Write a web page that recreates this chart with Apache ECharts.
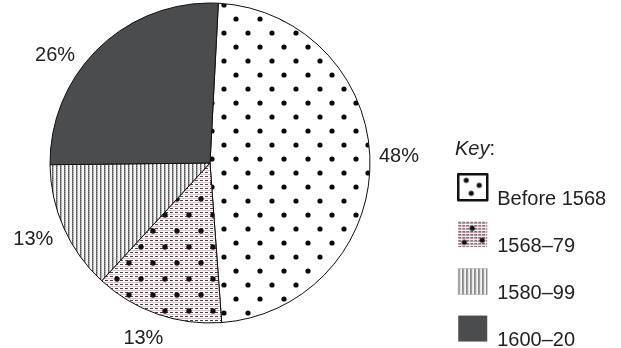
<!DOCTYPE html>
<html>
<head>
<meta charset="utf-8">
<script src="https://cdn.jsdelivr.net/npm/echarts@6/dist/echarts.min.js"></script>
<style>
html,body{margin:0;padding:0;background:#fff;}
#chart{width:621px;height:348px;}
</style>
</head>
<body>
<div id="chart"></div>
<script>
// ---- data ----
const categories = ['Before 1568', '1568–79', '1580–99', '1600–20'];
const shares = [48, 13, 13, 26];
const shareLabels = ['48%', '13%', '13%', '26%'];
const keyTitle = 'Key';

// ---- texture tiles ----
function tile(w, h, draw) {
  const c = document.createElement('canvas');
  c.width = w; c.height = h;
  const g = c.getContext('2d');
  draw(g);
  return c;
}
function dot(g, x, y, r, col) {
  g.fillStyle = col; g.beginPath(); g.arc(x, y, r, 0, Math.PI * 2); g.fill();
}
const dotsTile = tile(24, 28, g => {
  g.fillStyle = '#fff'; g.fillRect(0, 0, 24, 28);
  dot(g, 8, 5, 2.6, '#0a0a0a');
  dot(g, 20, 19, 2.6, '#0a0a0a');
});
const pinkTile = tile(120, 32, g => {
  g.fillStyle = '#fff'; g.fillRect(0, 0, 120, 32);
  for (let y = 0; y < 32; y += 4) {
    g.fillStyle = '#eeb6cd'; g.fillRect(0, y + 2, 120, 1);
    g.fillStyle = '#444';
    for (let x = 0; x < 120; x += 5) g.fillRect(x, y, 3, 1);
  }
  for (let x = 0; x < 120; x += 24) {
    dot(g, x + 9, 7, 2.7, '#111');
    dot(g, x + 21, 23, 2.7, '#111');
  }
});
const stripeTile = tile(4, 2, g => {
  g.fillStyle = '#fff'; g.fillRect(0, 0, 4, 2);
  g.fillStyle = '#505050'; g.fillRect(0, 0, 1, 1);
  g.fillStyle = '#777'; g.fillRect(0, 1, 1, 1);
  g.fillStyle = '#a8a8a8'; g.fillRect(1, 0, 1, 1);
  g.fillStyle = '#c0c0c0'; g.fillRect(1, 1, 1, 1);
  g.fillStyle = '#ececec'; g.fillRect(2, 1, 2, 1);
});
const keyDotsTile = tile(29, 26, g => {
  g.fillStyle = '#fff'; g.fillRect(0, 0, 29, 26);
  dot(g, 8, 6, 2.6, '#111');
  dot(g, 21, 11, 2.6, '#111');
  dot(g, 13, 19, 2.6, '#111');
});
const keyPinkTile = tile(29, 26, g => {
  g.fillStyle = '#fff'; g.fillRect(0, 0, 29, 26);
  for (let y = 1; y < 26; y += 3) {
    g.fillStyle = '#eeb6cd'; g.fillRect(0, y + 1, 29, 1);
    g.fillStyle = '#444';
    for (let x = 0; x < 29; x += 4) g.fillRect(x, y, 3, 1);
  }
  dot(g, 14, 7, 2.6, '#111');
  dot(g, 6, 21, 2.6, '#111');
  dot(g, 24, 19, 2.6, '#111');
});
const fills = [
  { image: dotsTile, repeat: 'repeat' },
  { image: pinkTile, repeat: 'repeat' },
  { image: stripeTile, repeat: 'repeat' },
  '#4b4c4e'
];
const keyFills = [
  { image: keyDotsTile, repeat: 'repeat' },
  { image: keyPinkTile, repeat: 'repeat' },
  { image: stripeTile, repeat: 'repeat' },
  '#4b4c4e'
];
const labelNudge = [[-2, -5], [13, 19], [0, 9], [-15, 12]];

const chart = echarts.init(document.getElementById('chart'), null, { renderer: 'canvas' });
const font = '"Liberation Sans", Arial, Helvetica, sans-serif';

chart.setOption({
  backgroundColor: '#fff',
  animation: false,
  title: {
    text: '{i|' + keyTitle + '}:',
    left: 450, top: 134,
    textStyle: {
      fontSize: 20, fontWeight: 'normal', color: '#222', fontFamily: font,
      rich: { i: { fontStyle: 'italic', fontSize: 20, color: '#222', fontFamily: font } }
    }
  },
  legend: {
    orient: 'vertical',
    left: 457, top: 173,
    height: 200,
    padding: 0,
    icon: 'rect',
    itemWidth: 29, itemHeight: 26, itemGap: 12,
    selectedMode: false,
    formatter: name => '{sp|}{t|' + name + '}',
    textStyle: {
      fontSize: 20, color: '#222', fontFamily: font, padding: [0, 0, 0, 5],
      rich: {
        sp: { height: 44, width: 0 },
        t: { fontSize: 20, color: '#222', fontFamily: font, verticalAlign: 'bottom', lineHeight: 20 }
      }
    },
    data: categories.map((c, i) => ({
      name: c,
      itemStyle: i === 0
        ? { color: keyFills[i], borderColor: '#111', borderWidth: 2.5 }
        : { color: keyFills[i], borderWidth: i === 2 ? 0.6 : 0, borderColor: '#aaa' }
    }))
  },
  series: [{
    type: 'pie',
    center: [210, 163],
    radius: 160,
    startAngle: 87,
    clockwise: true,
    avoidLabelOverlap: false,
    silent: true,
    itemStyle: { borderColor: '#111', borderWidth: 1 },
    label: {
      show: true, position: 'outside',
      fontSize: 20, color: '#222', fontFamily: font,
      formatter: p => shareLabels[p.dataIndex]
    },
    labelLine: { show: false, length: 6, length2: 0 },
    labelLayout: p => ({ dx: labelNudge[p.dataIndex][0], dy: labelNudge[p.dataIndex][1] }),
    data: categories.map((c, i) => ({ name: c, value: shares[i], itemStyle: { color: fills[i] } }))
  }]
});
</script>
</body>
</html>
